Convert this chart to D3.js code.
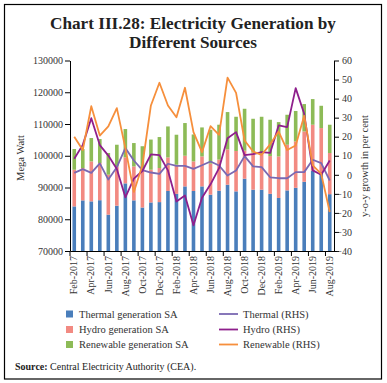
<!DOCTYPE html>
<html><head><meta charset="utf-8">
<script src="https://cdn.jsdelivr.net/npm/d3@7"></script>
<style>
html,body{margin:0;padding:0;background:#fff;}
svg{display:block;font-family:"Liberation Serif","DejaVu Serif",serif;}
</style></head>
<body>
<svg id="chart" width="387" height="383"></svg>
<script>
const months = ["Feb-2017","Mar-2017","Apr-2017","May-2017","Jun-2017","Jul-2017","Aug-2017","Sep-2017","Oct-2017","Nov-2017","Dec-2017","Jan-2018",
"Feb-2018","Mar-2018","Apr-2018","May-2018","Jun-2018","Jul-2018","Aug-2018","Sep-2018","Oct-2018","Nov-2018","Dec-2018","Jan-2019",
"Feb-2019","Mar-2019","Apr-2019","May-2019","Jun-2019","Jul-2019","Aug-2019"];
const thermalSA   = [84050,85940,85630,86000,81440,84270,91300,85950,83700,85300,85400,88900,88000,90350,88900,90350,87740,89000,90880,88780,92770,89310,89310,88000,86700,89090,89900,91800,95350,94500,87900];
const hydroSA     = [11550,10200,12590,11710,12590,12370,8200,10690,11900,10300,10740,10570,9180,9650,9320,9440,9760,9800,11120,12720,8830,11690,11290,11900,13090,14380,14620,15860,14420,14220,12960];
const renewableSA = [6520,5960,7360,7550,6830,6830,8910,7360,7400,9500,9750,9760,9440,10300,8480,9130,10690,10970,11760,10780,13200,10650,11680,11440,10810,9440,9580,8620,8080,7020,8910];
const thermalYoY   = [1,3,1,6,-2.5,4,14,7.5,2.5,1.2,0.5,5.8,4.7,4.7,3.1,5,7,4.9,-0.4,2.3,9.8,4.4,4,-1.3,-1.8,-1.8,1.4,1.4,7.9,6.1,-3];
const hydroYoY     = [8.4,15.7,29.7,15.6,10.1,3.1,-11.8,-2,2,10.7,10.3,2.3,-14,-10.9,-26.5,-12,-5,3.5,19.2,22.4,10.3,10.8,11.9,11.5,25.9,25,45.5,32,2.3,0,7.5];
const renewableYoY = [20,13,36,20.6,25.4,35,14,-9,5,36.4,48.3,36.4,30.2,45.7,22.4,11.9,25.5,21,51,43,18,12.2,10.5,16,22.7,13,15.4,31,5,0.5,-19.5];
const leftTicks  = [70000,80000,90000,100000,110000,120000,130000];
const rightTicks = [-40,-30,-20,-10,0,10,20,30,40,50,60];
const xTickLabels = months.filter((m,i)=>i%2===0);

const barSeries = [
  {name:"Thermal generation SA", values:thermalSA, color:"#4a7ebb"},
  {name:"Hydro generation SA", values:hydroSA, color:"#f28a82"},
  {name:"Renewable generation SA", values:renewableSA, color:"#8dbb57"}
];
const lineSeries = [
  {name:"Thermal (RHS)", values:thermalYoY, color:"#7a68b2"},
  {name:"Hydro (RHS)", values:hydroYoY, color:"#8e1f8c"},
  {name:"Renewable (RHS)", values:renewableYoY, color:"#f68f3c"}
];

const svg = d3.select("#chart");
const L = 70, R = 334, T = 60.5, B = 251;

// border
svg.append("rect").attr("x",4.5).attr("y",4.5).attr("width",377).attr("height",374.5)
  .attr("fill","none").attr("stroke","#000").attr("stroke-width",1.2);

// title
const title = svg.append("text").attr("text-anchor","middle").attr("font-weight","bold")
  .attr("font-size",17.2).attr("fill","#222");
title.append("tspan").attr("x",193).attr("y",29).text("Chart III.28: Electricity Generation by");
title.append("tspan").attr("x",193).attr("y",48).text("Different Sources");

const x = d3.scaleBand().domain(months).range([L,R]).paddingInner(0).paddingOuter(0);
const yL = d3.scaleLinear().domain([70000,130000]).range([B,T]);
const yR = d3.scaleLinear().domain([-40,60]).range([B,T]);

// stacked bars
const table = months.map((m,i)=>({month:m, thermal:thermalSA[i], hydro:hydroSA[i], renewable:renewableSA[i]}));
const stack = d3.stack().keys(["thermal","hydro","renewable"])(table);
const bw = 3.6;
stack.forEach((layer,k)=>{
  svg.append("g").selectAll("rect").data(layer).join("rect")
    .attr("x",d=>x(d.data.month)+x.bandwidth()/2-bw/2)
    .attr("width",bw)
    .attr("y",d=>yL(d[1]))
    .attr("height",d=>Math.max(0,yL(Math.max(d[0],70000))-yL(d[1])))
    .attr("fill",barSeries[k].color);
});

// lines
const lineGen = vals => d3.line().x((d,i)=>x(months[i])+x.bandwidth()/2).y(d=>yR(d))(vals);
lineSeries.forEach(s=>{
  svg.append("path").attr("d",lineGen(s.values)).attr("fill","none")
    .attr("stroke",s.color).attr("stroke-width",1.8).attr("stroke-linejoin","round");
});

// left axis
const gL = svg.append("g").attr("transform",`translate(${L},0)`)
  .call(d3.axisLeft(yL).tickValues(leftTicks).tickFormat(d3.format("d")).tickSize(5).tickSizeOuter(0));
gL.selectAll("text").attr("font-size",10).attr("font-family","Liberation Serif").attr("fill","#333").attr("x",-7);
gL.selectAll("line,path").attr("stroke","#000");

// right axis
const gR = svg.append("g").attr("transform",`translate(${R},0)`)
  .call(d3.axisRight(yR).tickValues(rightTicks).tickFormat(d3.format("d")).tickSize(5).tickSizeOuter(0));
gR.selectAll("text").attr("font-size",10).attr("font-family","Liberation Serif").attr("fill","#333")
  .attr("text-anchor","end").attr("x",18);
gR.selectAll("line,path").attr("stroke","#000");

// bottom axis
const gB = svg.append("g").attr("transform",`translate(0,${B})`)
  .call(d3.axisBottom(x).tickValues(xTickLabels).tickSize(5).tickSizeOuter(0));
gB.selectAll(".tick line").attr("transform",`translate(${-x.bandwidth()/2},0)`).attr("stroke","#000");
gB.select(".domain").attr("stroke","#000");
gB.selectAll("text").attr("font-size",10).attr("font-family","Liberation Serif").attr("fill","#333")
  .attr("transform","rotate(-90)").attr("text-anchor","end").attr("x",-5).attr("y",0).attr("dy","0.32em");

// axis titles
svg.append("text").attr("transform","translate(24,158) rotate(-90)").attr("text-anchor","middle")
  .attr("font-size",10.5).attr("fill","#333").text("Mega Watt");
svg.append("text").attr("transform","translate(368,166) rotate(-90)").attr("text-anchor","middle")
  .attr("font-size",10.5).attr("fill","#333").text("y-o-y growth in per cent");

// legend
const legY = [314,329.5,344.5];
barSeries.forEach((s,i)=>{
  svg.append("rect").attr("x",66).attr("y",legY[i]-3.5).attr("width",7).attr("height",7).attr("fill",s.color);
  svg.append("text").attr("x",79).attr("y",legY[i]+3.5).attr("font-size",10.5).attr("fill","#333").text(s.name);
});
lineSeries.forEach((s,i)=>{
  svg.append("line").attr("x1",219).attr("x2",238).attr("y1",legY[i]).attr("y2",legY[i])
    .attr("stroke",s.color).attr("stroke-width",1.8);
  svg.append("text").attr("x",243).attr("y",legY[i]+3.5).attr("font-size",10.5).attr("fill","#333").text(s.name);
});

// source
const src = svg.append("text").attr("x",15).attr("y",370).attr("font-size",10).attr("fill","#222");
src.append("tspan").attr("font-weight","bold").text("Source:");
src.append("tspan").text(" Central Electricity Authority (CEA).");
</script>
</body></html>
